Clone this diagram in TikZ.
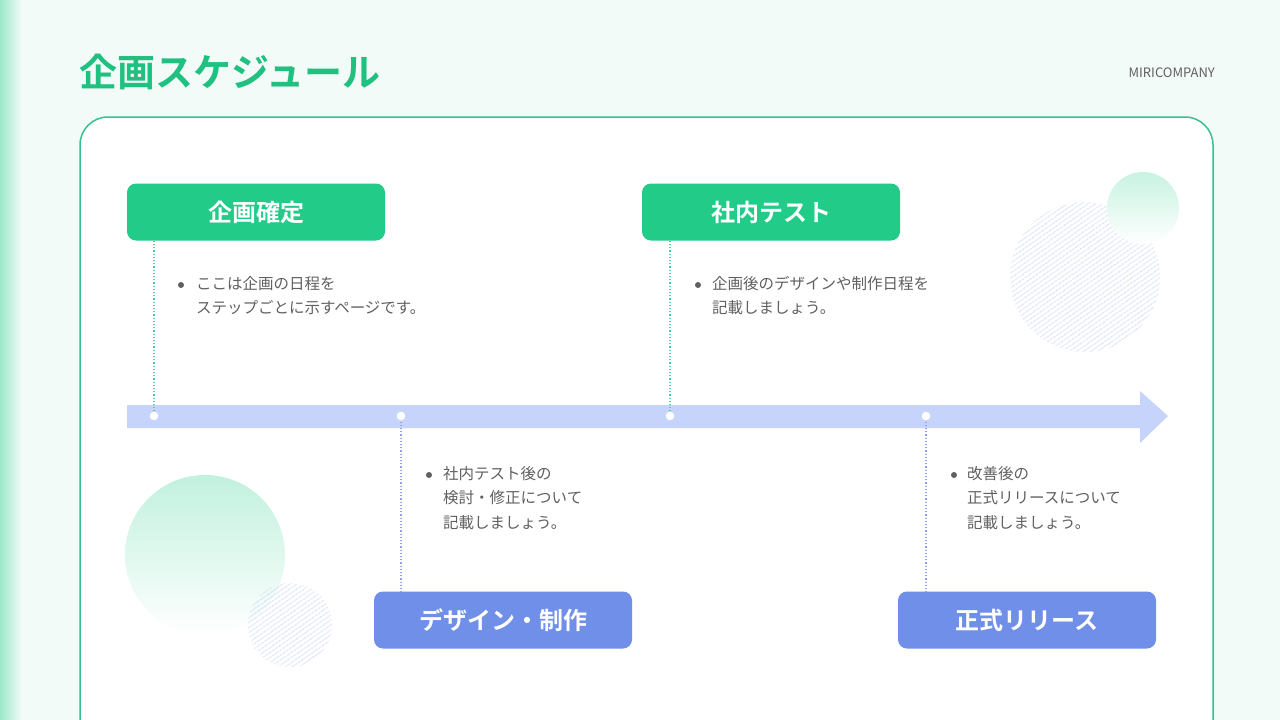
\documentclass[tikz,border=0pt]{standalone}
\usepackage{fontspec}
\setmainfont{Noto Sans CJK JP}
\newfontfamily\jpb{Noto Sans CJK JP Bold}
\usetikzlibrary{patterns.meta,shadings}
\definecolor{bgc}{HTML}{F3FBF8}
\definecolor{grn}{HTML}{22CC88}
\definecolor{ttl}{HTML}{20C080}
\definecolor{bord}{HTML}{35C28F}
\definecolor{blu}{HTML}{6F8FE9}
\definecolor{arr}{HTML}{C6D4FB}
\definecolor{txt}{HTML}{606060}
\definecolor{hat}{HTML}{B9C2F0}
\tikzset{
  gbox/.style={fill=grn,rounded corners=9pt,minimum width=258pt,minimum height=57pt,inner sep=0pt,text=white,font=\jpb\fontsize{24}{24}\selectfont},
  bbox/.style={gbox,fill=blu},
  dotn/.style={circle,fill=white,draw=arr,line width=1pt,minimum size=10pt,inner sep=0pt},
  gdot/.style={draw=grn!80,dotted,line width=1.2pt},
  bdot/.style={draw=blu!80,dotted,line width=1.2pt},
  btxt/.style={anchor=north west,align=left,text=txt,font=\fontsize{15.5}{24.5}\selectfont,inner sep=0pt},
  bul/.style={circle,fill=txt,minimum size=6pt,inner sep=0pt}
}
\begin{document}
\begin{tikzpicture}[x=1pt,y=-1pt]
\useasboundingbox (0,0) rectangle (1280,720);
\fill[bgc] (0,0) rectangle (1280,720);
\shade[left color=grn!45,right color=bgc] (0,0) rectangle (22,720);
\node[anchor=west,text=ttl,font=\jpb\fontsize{38}{38}\selectfont,inner sep=0pt] (title) at (79,72) {企画スケジュール};
\node[anchor=east,text=txt,font=\fontsize{13}{13}\selectfont,inner sep=0pt] (co) at (1215,73) {MIRICOMPANY};
\draw[bord,fill=white,line width=1.5pt,rounded corners=28pt] (80,760) -- (80,117) -- (1213,117) -- (1213,760);
% decorations
\shade[shading=axis,shading angle=135,top color=grn!28,bottom color=white] (205,555) circle (80);
\fill[pattern={Lines[angle=35,distance=4pt,line width=0.6pt]},pattern color=hat] (290,625) circle (42);
\fill[pattern={Lines[angle=35,distance=4pt,line width=0.6pt]},pattern color=hat] (1085,277) circle (75);
\shade[shading=axis,shading angle=135,top color=grn!25,bottom color=white] (1143,208) circle (36);
% arrow
\fill[arr] (127,405) -- (1140,405) -- (1140,391) -- (1168,416) -- (1140,443) -- (1140,428) -- (127,428) -- cycle;
% boxes
\node[gbox] (b1) at (256,212) {企画確定};
\node[gbox] (b3) at (771,212) {社内テスト};
\node[bbox] (b2) at (503,620) {デザイン・制作};
\node[bbox] (b4) at (1027,620) {正式リリース};
\node[dotn] (d1) at (154,416) {};
\node[dotn] (d2) at (401,416) {};
\node[dotn] (d3) at (670,416) {};
\node[dotn] (d4) at (926,416) {};
\draw[gdot] (d1.north |- b1.south) -- (d1.north);
\draw[gdot] (d3.north |- b3.south) -- (d3.north);
\draw[bdot] (d2.south) -- (d2.south |- b2.north);
\draw[bdot] (d4.south) -- (d4.south |- b4.north);
% texts
\node[bul] (u1) at (181,285) {};
\node[btxt] (t1) at (196,276) {ここは企画の日程を\\ステップごとに示すページです。};
\node[bul] (u3) at (698,285) {};
\node[btxt] (t3) at (712,276) {企画後のデザインや制作日程を\\記載しましょう。};
\node[bul] (u2) at (429,475) {};
\node[btxt] (t2) at (443,466) {社内テスト後の\\検討・修正について\\記載しましょう。};
\node[bul] (u4) at (954,475) {};
\node[btxt] (t4) at (967,466) {改善後の\\正式リリースについて\\記載しましょう。};
\end{tikzpicture}
\end{document}
